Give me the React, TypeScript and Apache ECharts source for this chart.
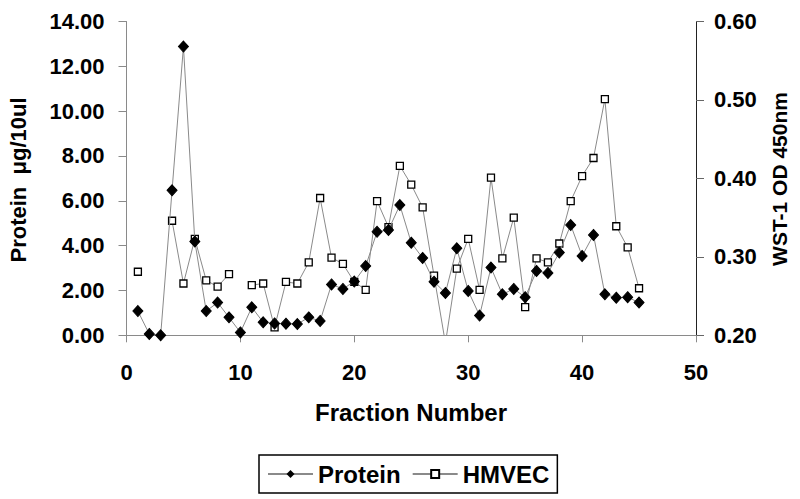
import React, { useEffect, useRef } from "react";
import * as echarts from "echarts";

const fractions = [1, 2, 3, 4, 5, 6, 7, 8, 9, 10, 11, 12, 13, 14, 15, 16, 17, 18, 19, 20, 21, 22, 23, 24, 25, 26, 27, 28, 29, 30, 31, 32, 33, 34, 35, 36, 37, 38, 39, 40, 41, 42, 43, 44, 45];
const protein = [1.08, 0.06, 0.0, 6.47, 12.88, 4.18, 1.08, 1.46, 0.8, 0.13, 1.25, 0.58, 0.53, 0.52, 0.5, 0.8, 0.64, 2.27, 2.07, 2.4, 3.09, 4.62, 4.7, 5.81, 4.13, 3.45, 2.39, 1.89, 3.88, 1.98, 0.88, 3.02, 1.83, 2.07, 1.7, 2.87, 2.78, 3.69, 4.92, 3.54, 4.48, 1.83, 1.68, 1.7, 1.46];
const hmvec: (number | null)[] = [0.281, null, null, 0.346, 0.266, 0.323, 0.27, 0.262, 0.278, null, 0.264, 0.266, 0.21, 0.268, 0.266, 0.293, 0.375, 0.299, 0.291, 0.268, 0.258, 0.371, 0.338, 0.416, 0.392, 0.363, 0.276, 0.19, 0.285, 0.323, 0.258, 0.401, 0.298, 0.35, 0.236, 0.298, 0.293, 0.317, 0.371, 0.403, 0.426, 0.501, 0.339, 0.312, 0.26];

const xTitle = "Fraction Number";
const leftTitle = "Protein  μg/10ul";
const rightTitle = "WST-1 OD 450nm";

const FONT = "'Liberation Sans', Arial, Helvetica, sans-serif";

export default function App() {
  const ref = useRef<HTMLDivElement>(null);
  useEffect(() => {
    if (!ref.current) return;
    const chart = echarts.init(ref.current, null, { renderer: "svg" });
    const labelStyle = { fontFamily: FONT, fontWeight: "bold" as const, fontSize: 22, color: "#000" };
    chart.setOption({
      animation: false,
      backgroundColor: "#fff",
      grid: { left: 126.5, right: 104, top: 21.5, bottom: 163.7, containLabel: false },
      xAxis: {
        type: "value",
        min: 0,
        max: 50,
        interval: 10,
        splitLine: { show: false },
        axisLine: { show: true, onZero: false, lineStyle: { color: "#8a8a8a", width: 1 } },
        axisTick: { show: true, length: 7, lineStyle: { color: "#8a8a8a" } },
        axisLabel: { ...labelStyle, margin: 26 },
      },
      yAxis: [
        {
          type: "value",
          position: "left",
          min: 0,
          max: 14,
          interval: 2,
          splitLine: { show: false },
          axisLine: { show: true, lineStyle: { color: "#8a8a8a", width: 1 } },
          axisTick: { show: true, length: 8, lineStyle: { color: "#8a8a8a" } },
          axisLabel: { ...labelStyle, margin: 22, formatter: (v: number) => v.toFixed(2) },
        },
        {
          type: "value",
          position: "right",
          min: 0.2,
          max: 0.6,
          interval: 0.1,
          splitLine: { show: false },
          axisLine: { show: true, lineStyle: { color: "#222", width: 1 } },
          axisTick: { show: true, length: 8, lineStyle: { color: "#666" } },
          axisLabel: { ...labelStyle, margin: 18, formatter: (v: number) => v.toFixed(2) },
        },
      ],
      legend: {
        left: 259,
        top: 455,
        orient: "horizontal",
        borderColor: "#000",
        borderWidth: 1.5,
        padding: [7, 8, 7, 8],
        itemWidth: 45,
        itemHeight: 10,
        itemGap: 11,
        textStyle: { fontFamily: FONT, fontWeight: "bold", fontSize: 24, color: "#000" },
        data: ["Protein", "HMVEC"],
      },
      series: [
        {
          name: "Protein",
          type: "line",
          yAxisIndex: 0,
          data: fractions.map((f, i) => [f, protein[i]]),
          symbol: "diamond",
          symbolSize: [10, 11],
          itemStyle: { color: "#000", borderColor: "#000" },
          lineStyle: { color: "#8a8a8a", width: 1 },
          clip: true,
          z: 3,
        },
        {
          name: "HMVEC",
          type: "line",
          yAxisIndex: 1,
          data: fractions.map((f, i) => [f, hmvec[i] === null ? "-" : hmvec[i]]),
          connectNulls: false,
          symbol: "rect",
          symbolSize: 7,
          itemStyle: { color: "#fff", borderColor: "#000", borderWidth: 1.3 },
          lineStyle: { color: "#8a8a8a", width: 1 },
          clip: true,
          z: 2,
        },
      ],
      graphic: [
        {
          type: "text",
          x: 18,
          y: 180,
          rotation: Math.PI / 2,
          style: { text: leftTitle, fontFamily: FONT, fontWeight: "bold", fontSize: 22, fill: "#000", textAlign: "center", textVerticalAlign: "middle" },
        },
        {
          type: "text",
          x: 779,
          y: 179,
          rotation: Math.PI / 2,
          style: { text: rightTitle, fontFamily: FONT, fontWeight: "bold", fontSize: 21, fill: "#000", textAlign: "center", textVerticalAlign: "middle" },
        },
        {
          type: "text",
          x: 411,
          y: 412,
          style: { text: xTitle, fontFamily: FONT, fontWeight: "bold", fontSize: 24, fill: "#000", textAlign: "center", textVerticalAlign: "middle" },
        },
      ],
    });
    return () => chart.dispose();
  }, []);
  return <div ref={ref} style={{ position: "fixed", left: 0, top: 0, width: 800, height: 499 }} />;
}
